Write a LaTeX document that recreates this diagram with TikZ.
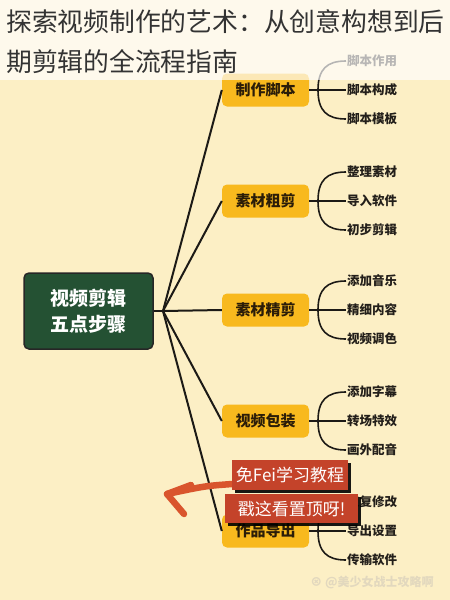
\documentclass[tikz,border=0pt]{standalone}
\usepackage{fontspec}
\newfontfamily\cjk{Noto Sans CJK SC}
\usetikzlibrary{shadows}
\definecolor{bg}{HTML}{FCEFC5}
\definecolor{ybox}{HTML}{F8B91E}
\definecolor{rootg}{HTML}{245133}
\definecolor{linec}{HTML}{1C1A16}
\definecolor{branchtext}{HTML}{2B1D08}
\definecolor{leaftext}{HTML}{231F1A}
\definecolor{titlec}{HTML}{333333}
\definecolor{bannerred}{HTML}{C4432A}
\definecolor{arrowc}{HTML}{D9552D}
\definecolor{wmark}{HTML}{E2D8BE}
\begin{document}
\begin{tikzpicture}[x=1pt,y=-1pt,
  rootbox/.style={fill=rootg, draw=black!85, line width=1.5pt, rounded corners=5pt,
    minimum width=129pt, minimum height=76pt, align=center, text=white,
    font=\cjk\bfseries\fontsize{19}{26}\selectfont, inner sep=0},
  branch/.style={fill=ybox, rounded corners=5pt, minimum width=87pt, minimum height=33pt,
    font=\cjk\bfseries\fontsize{15}{15}\selectfont, text=branchtext, inner sep=0},
  leaf/.style={anchor=west, font=\cjk\bfseries\fontsize{12.5}{13}\selectfont, text=leaftext, inner sep=1pt},
  trunk/.style={line width=2pt, draw=linec},
  twig/.style={line width=1.6pt, draw=linec},
  banner/.style={fill=bannerred, text=white, font=\cjk\fontsize{17}{17}\selectfont, inner sep=0,
    drop shadow={shadow xshift=2.5pt, shadow yshift=-3pt, opacity=0.9, fill=black}},
  titletext/.style={anchor=west, text=titlec, font=\cjk\fontsize{25.8}{26}\selectfont, inner sep=0},
  bigarrow/.style={draw=arrowc, line width=6.5pt, line cap=round, line join=round}
]
\useasboundingbox (0,0) rectangle (450,600);
\fill[bg] (0,0) rectangle (450,600);

% root and hub
\node[rootbox] (root) at (88.5,311) {视频剪辑\\五点步骤};
\coordinate (hub) at (163,311);

% branches
\foreach \i/\y/\t in {1/90/制作脚本, 2/201/素材粗剪, 3/310/素材精剪, 4/421/视频包装, 5/531/作品导出}
  \node[branch] (b\i) at (265.5,\y) {\t};

\draw[trunk] (root.east) -- (hub);
\foreach \i in {1,...,5}
  \draw[trunk] (hub) -- (b\i.west);

% leaves
\foreach \i/\y/\a/\b/\c in {1/90/脚本作用/脚本构成/脚本模板,
                            2/201/整理素材/导入软件/初步剪辑,
                            3/310/添加音乐/精细内容/视频调色,
                            4/421/添加字幕/转场特效/画外配音,
                            5/531/反复修改/导出设置/传输软件}{
  \node[leaf] (l\i1) at (346,\y-29) {\a};
  \node[leaf] (l\i2) at (346,\y) {\b};
  \node[leaf] (l\i3) at (346,\y+29) {\c};
  \coordinate (s\i) at (318,\y);
  \draw[twig] (b\i.east) -- (l\i2.west);
  \draw[twig] (s\i) .. controls +(0,-21) and +(-19,0) .. (l\i1.west);
  \draw[twig] (s\i) .. controls +(0,21) and +(-19,0) .. (l\i3.west);
}

% title band
\fill[white, opacity=0.68] (0,0) rectangle (450,80);
\node[titletext] (t1) at (6,22) {探索视频制作的艺术：从创意构想到后};
\node[titletext] (t2) at (6,62) {期剪辑的全流程指南};

% arrow
\coordinate (atail) at (232,484);
\coordinate (atip) at (167,494);
\coordinate (awa) at (191,485);
\coordinate (awb) at (184,514);
\draw[bigarrow] (atail) .. controls (205,486) .. (atip);
\draw[bigarrow] (awa) -- (atip) -- (awb);

% banners
\node[banner, minimum width=116pt, minimum height=30pt] (ban1) at (290,475) {免Fei学习教程};
\node[banner, minimum width=133pt, minimum height=29pt] (ban2) at (291.5,508.5) {戳这看置顶呀!};

% watermark
\node[text=wmark, font=\cjk\bfseries\fontsize{12}{12}\selectfont, inner sep=0] (wm) at (372,583) {⊗ @美少女战士攻略啊};
\end{tikzpicture}
\end{document}
